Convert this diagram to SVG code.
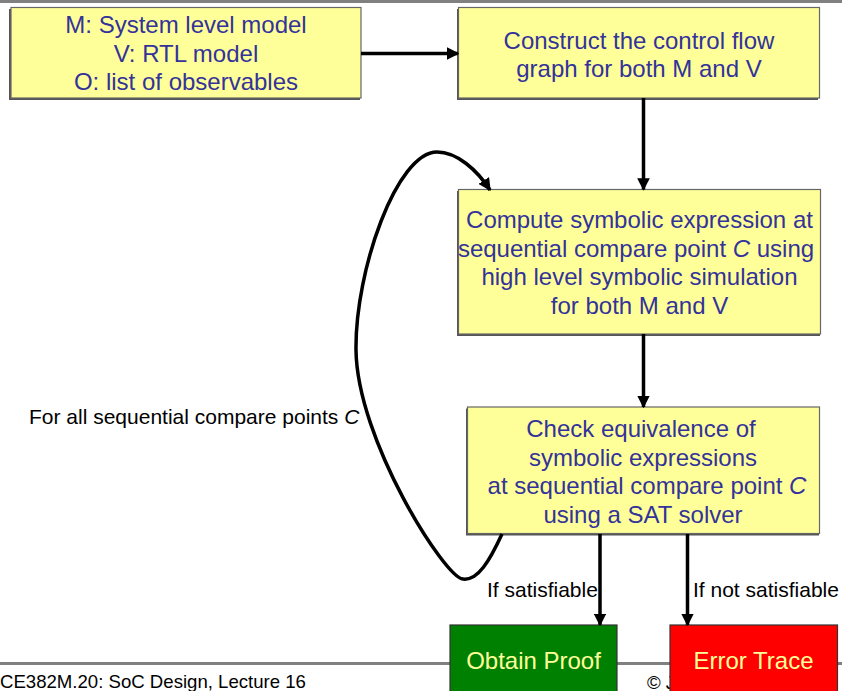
<svg xmlns="http://www.w3.org/2000/svg" width="842" height="691" viewBox="0 0 842 691">
  <defs>
    <marker id="head" viewBox="0 0 10 10" refX="9" refY="5" markerWidth="3.6" markerHeight="3.6" orient="auto" markerUnits="strokeWidth">
      <path d="M0,0 L10,5 L0,10 z" fill="#000"/>
    </marker>
    <style>
      .box { fill: #FFFF99; stroke: #666666; stroke-width: 1.2; }
      .shadow { fill: #555555; }
      .btxt { font-family: "Liberation Sans", Arial, sans-serif; font-size: 24px; fill: #333399; text-anchor: middle; }
      .lbl { font-family: "Liberation Sans", Arial, sans-serif; font-size: 21px; fill: #000000; }
      .foot { font-family: "Liberation Sans", Arial, sans-serif; font-size: 18.6px; fill: #000000; }
      .res { font-family: "Liberation Sans", Arial, sans-serif; font-size: 24px; fill: #FFFF99; text-anchor: middle; }
      .edge { fill: none; stroke: #000000; stroke-width: 3.5; marker-end: url(#head); }
      .rule { stroke: #808080; stroke-width: 3; }
    </style>
  </defs>

  <rect width="842" height="691" fill="#FFFFFF"/>

  <!-- slide rules -->
  <line class="rule" x1="0" y1="1.5" x2="842" y2="1.5"/>
  <line class="rule" x1="0" y1="663.5" x2="842" y2="663.5"/>

  <!-- footer -->
  <text class="foot" x="0" y="688">CE382M.20: SoC Design, Lecture 16</text>
  <text class="foot" x="647" y="689">© J</text>

  <g id="inputs">
    <rect class="shadow" x="9" y="9" width="351" height="91"/>
    <rect class="box" x="11" y="7.5" width="350" height="90.5"/>
    <text class="btxt" x="186" y="33">M: System level model</text>
    <text class="btxt" x="186" y="61.5">V: RTL model</text>
    <text class="btxt" x="186" y="90">O: list of observables</text>
  </g>

  <g id="cfg">
    <rect class="shadow" x="457" y="9" width="361" height="91"/>
    <rect class="box" x="458.5" y="7.5" width="361" height="90.5"/>
    <text class="btxt" x="639" y="48.5">Construct the control flow</text>
    <text class="btxt" x="639" y="77">graph for both M and V</text>
  </g>

  <g id="symsim">
    <rect class="shadow" x="457" y="191" width="363" height="145"/>
    <rect class="box" x="458.5" y="189.5" width="362" height="144.5"/>
    <text class="btxt" x="639.5" y="228">Compute symbolic expression at</text>
    <text class="btxt" x="636" y="256.5">sequential compare point <tspan font-style="italic">C</tspan> using</text>
    <text class="btxt" x="639.5" y="285">high level symbolic simulation</text>
    <text class="btxt" x="639.5" y="313.5">for both M and V</text>
  </g>

  <g id="equiv">
    <rect class="shadow" x="466" y="408.5" width="353" height="127"/>
    <rect class="box" x="467.5" y="407" width="352" height="126.5"/>
    <text class="btxt" x="641" y="437">Check equivalence of</text>
    <text class="btxt" x="643" y="465.5">symbolic expressions</text>
    <text class="btxt" x="647" y="494">at sequential compare point <tspan font-style="italic">C</tspan></text>
    <text class="btxt" x="643" y="522.5">using a SAT solver</text>
  </g>

  <g id="proof">
    <rect x="450" y="625" width="167" height="70" fill="#008000" stroke="#333333" stroke-width="1.2"/>
    <text class="res" x="533.5" y="669">Obtain Proof</text>
  </g>

  <g id="trace">
    <rect x="670" y="625" width="167.5" height="70" fill="#FF0000" stroke="#333333" stroke-width="1.2"/>
    <text class="res" x="753.5" y="669">Error Trace</text>
  </g>

  <g id="connectors">
    <line class="edge" x1="361" y1="53.5" x2="458" y2="53.5"/>
    <line class="edge" x1="643.5" y1="98" x2="643.5" y2="189.5"/>
    <line class="edge" x1="643.5" y1="334" x2="643.5" y2="407"/>
    <line class="edge" x1="600" y1="534" x2="600" y2="625"/>
    <line class="edge" x1="687.5" y1="534" x2="687.5" y2="625"/>
    <path class="edge" d="M502,534 C490,560 478,581 463,579 C445,578 357,440 356,350 C355,270 397,152 437,152 C457,152 477,170 490,190"/>
    <text class="lbl" x="29" y="424">For all sequential compare points <tspan font-style="italic">C</tspan></text>
    <text class="lbl" x="487" y="597">If satisfiable</text>
    <text class="lbl" x="693" y="597">If not satisfiable</text>
  </g>
</svg>
